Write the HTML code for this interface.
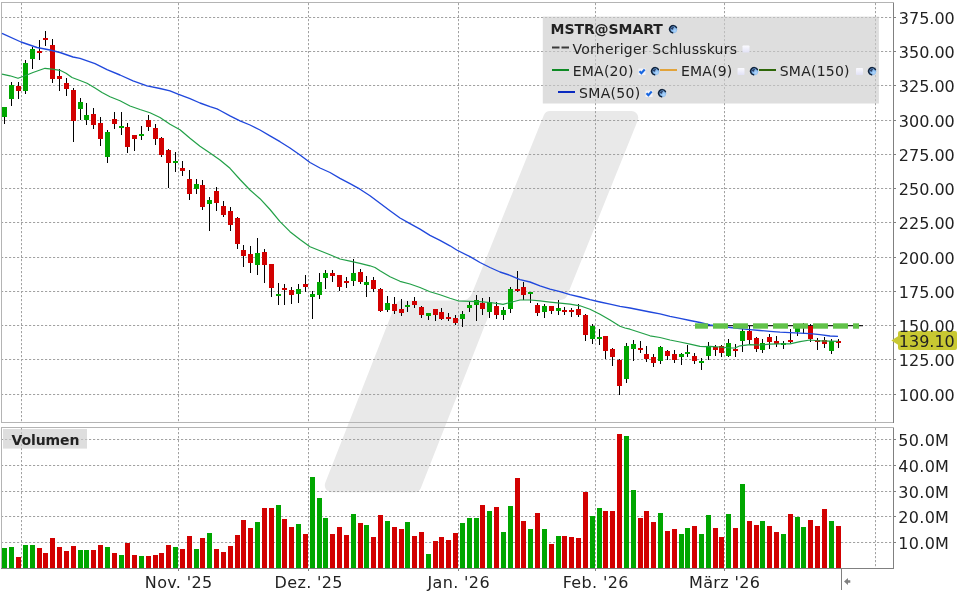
<!DOCTYPE html>
<html lang="de"><head><meta charset="utf-8"><title>MSTR@SMART Chart</title>
<style>html,body{margin:0;padding:0;background:#fff;overflow:hidden}svg{display:block;will-change:transform;-webkit-font-smoothing:antialiased}text{font-family:'DejaVu Sans','Liberation Sans',sans-serif;fill:#222}</style></head><body>
<svg width="960" height="600" viewBox="0 0 960 600">
<defs>
<radialGradient id="gl" cx="0.7" cy="0.7" r="0.8"><stop offset="0" stop-color="#b4d8fc"/><stop offset="0.5" stop-color="#7fb4ea"/><stop offset="1" stop-color="#3a69a6"/></radialGradient>
<g id="globe"><circle cx="4.2" cy="4.2" r="4" fill="url(#gl)"/><path d="M7.46 2.68 A3.6 3.6 0 1 0 3.57 7.75" fill="none" stroke="#0d1c33" stroke-width="1.45" stroke-linecap="round" opacity="0.95"/><path d="M1.8 3.6 Q3 1.3 5.3 2.2 Q3.9 2.8 4.2 4.6 Q2.4 4.9 1.8 3.6Z" fill="#1a2c52" opacity="0.85"/></g>
<linearGradient id="cbg" x1="0" y1="0" x2="0" y2="1"><stop offset="0" stop-color="#fbfbff"/><stop offset="1" stop-color="#e2e2f6"/></linearGradient>
<g id="cbox"><rect x="0" y="0" width="7" height="7" rx="0.8" fill="url(#cbg)"/></g>
<g id="cboxc"><rect x="0" y="0.5" width="7" height="6.5" fill="#f2f3fa"/><path d="M1 3.2 L2.9 5.2 L6.2 1.5" fill="none" stroke="#1766e0" stroke-width="2.1"/></g>
</defs>
<rect width="960" height="600" fill="#fff"/>
<path d="M543.73 115.38 A7.0 7.0 0 0 1 550.23 111.00 L631.23 111.00 A7.0 7.0 0 0 1 637.72 120.62 L567.20 295.62 A7.0 7.0 0 0 1 560.71 300.00 L502.97 300.00 A12.0 12.0 0 0 0 491.81 307.61 L420.97 487.86 A7.0 7.0 0 0 1 414.45 492.30 L331.79 492.30 A7.0 7.0 0 0 1 325.28 482.74 L395.16 304.94 A7.0 7.0 0 0 1 401.67 300.50 L461.03 300.50 A12.0 12.0 0 0 0 472.16 292.99Z" fill="#e9e9e9"/>
<g stroke="#a2a2a2" stroke-width="1" stroke-dasharray="2.2 1.8" fill="none">
<line x1="1" x2="893" y1="17.5" y2="17.5"/>
<line x1="1" x2="893" y1="51.5" y2="51.5"/>
<line x1="1" x2="893" y1="85.5" y2="85.5"/>
<line x1="1" x2="893" y1="120.5" y2="120.5"/>
<line x1="1" x2="893" y1="154.5" y2="154.5"/>
<line x1="1" x2="893" y1="188.5" y2="188.5"/>
<line x1="1" x2="893" y1="222.5" y2="222.5"/>
<line x1="1" x2="893" y1="257.5" y2="257.5"/>
<line x1="1" x2="893" y1="291.5" y2="291.5"/>
<line x1="1" x2="893" y1="325.5" y2="325.5"/>
<line x1="1" x2="893" y1="359.5" y2="359.5"/>
<line x1="1" x2="893" y1="394.5" y2="394.5"/>
<line x1="1" x2="893" y1="439.5" y2="439.5"/>
<line x1="1" x2="893" y1="465.5" y2="465.5"/>
<line x1="1" x2="893" y1="491.5" y2="491.5"/>
<line x1="1" x2="893" y1="516.5" y2="516.5"/>
<line x1="1" x2="893" y1="542.5" y2="542.5"/>
<line x1="21.5" x2="21.5" y1="3" y2="422"/>
<line x1="21.5" x2="21.5" y1="428" y2="568"/>
<line x1="178.5" x2="178.5" y1="3" y2="422"/>
<line x1="178.5" x2="178.5" y1="428" y2="568"/>
<line x1="308.5" x2="308.5" y1="3" y2="422"/>
<line x1="308.5" x2="308.5" y1="428" y2="568"/>
<line x1="458.5" x2="458.5" y1="3" y2="422"/>
<line x1="458.5" x2="458.5" y1="428" y2="568"/>
<line x1="595.5" x2="595.5" y1="3" y2="422"/>
<line x1="595.5" x2="595.5" y1="428" y2="568"/>
<line x1="724.5" x2="724.5" y1="3" y2="422"/>
<line x1="724.5" x2="724.5" y1="428" y2="568"/>
<line x1="875.5" x2="875.5" y1="3" y2="422"/>
<line x1="875.5" x2="875.5" y1="428" y2="568"/>
</g>
<rect x="542.8" y="16.6" width="336.1" height="86.9" fill="rgb(203,203,203)" fill-opacity="0.64"/>
<rect x="3" y="429" width="84" height="19.6" fill="rgb(203,203,203)" fill-opacity="0.64"/>
<g shape-rendering="crispEdges" fill="none" stroke-width="1">
<path d="M1.5 422.5 V2.5 H893.5" stroke="#b4b4b4"/>
<path d="M1.5 422.5 H893.5" stroke="#b4b4b4"/>
<path d="M1.5 568.5 V427.5 H893.5" stroke="#b4b4b4"/>
<path d="M893.5 2.5 V423" stroke="#808080"/>
<path d="M893.5 427.5 V568.5 H1" stroke="#808080"/>
<line x1="893" x2="896" y1="17.5" y2="17.5" stroke="#808080"/>
<line x1="893" x2="896" y1="51.5" y2="51.5" stroke="#808080"/>
<line x1="893" x2="896" y1="85.5" y2="85.5" stroke="#808080"/>
<line x1="893" x2="896" y1="120.5" y2="120.5" stroke="#808080"/>
<line x1="893" x2="896" y1="154.5" y2="154.5" stroke="#808080"/>
<line x1="893" x2="896" y1="188.5" y2="188.5" stroke="#808080"/>
<line x1="893" x2="896" y1="222.5" y2="222.5" stroke="#808080"/>
<line x1="893" x2="896" y1="257.5" y2="257.5" stroke="#808080"/>
<line x1="893" x2="896" y1="291.5" y2="291.5" stroke="#808080"/>
<line x1="893" x2="896" y1="325.5" y2="325.5" stroke="#808080"/>
<line x1="893" x2="896" y1="359.5" y2="359.5" stroke="#808080"/>
<line x1="893" x2="896" y1="394.5" y2="394.5" stroke="#808080"/>
<line x1="893" x2="896" y1="439.5" y2="439.5" stroke="#808080"/>
<line x1="893" x2="896" y1="465.5" y2="465.5" stroke="#808080"/>
<line x1="893" x2="896" y1="491.5" y2="491.5" stroke="#808080"/>
<line x1="893" x2="896" y1="516.5" y2="516.5" stroke="#808080"/>
<line x1="893" x2="896" y1="542.5" y2="542.5" stroke="#808080"/>
<line x1="178.5" x2="178.5" y1="568" y2="571" stroke="#808080"/>
<line x1="308.5" x2="308.5" y1="568" y2="571" stroke="#808080"/>
<line x1="458.5" x2="458.5" y1="568" y2="571" stroke="#808080"/>
<line x1="595.5" x2="595.5" y1="568" y2="571" stroke="#808080"/>
<line x1="724.5" x2="724.5" y1="568" y2="571" stroke="#808080"/>
<line x1="841.5" x2="841.5" y1="568" y2="590" stroke="#808080"/>
</g>
<path d="M844 581.5 L848 578 V580.3 H850.3 V582.7 H848 V585 Z" fill="#808080"/>
<g shape-rendering="crispEdges">
<rect x="2" y="548" width="5" height="20" fill="#00a600"/>
<rect x="9" y="547" width="5" height="21" fill="#00a600"/>
<rect x="16" y="557" width="5" height="11" fill="#d20000"/>
<rect x="23" y="545" width="5" height="23" fill="#00a600"/>
<rect x="30" y="545" width="5" height="23" fill="#00a600"/>
<rect x="37" y="548" width="5" height="20" fill="#d20000"/>
<rect x="43" y="553" width="5" height="15" fill="#d20000"/>
<rect x="50" y="538" width="5" height="30" fill="#d20000"/>
<rect x="57" y="547" width="5" height="21" fill="#d20000"/>
<rect x="64" y="551" width="5" height="17" fill="#d20000"/>
<rect x="71" y="546" width="5" height="22" fill="#d20000"/>
<rect x="78" y="550" width="5" height="18" fill="#00a600"/>
<rect x="84" y="550" width="5" height="18" fill="#00a600"/>
<rect x="91" y="550" width="5" height="18" fill="#d20000"/>
<rect x="98" y="545" width="5" height="23" fill="#d20000"/>
<rect x="105" y="547" width="5" height="21" fill="#00a600"/>
<rect x="112" y="553" width="5" height="15" fill="#d20000"/>
<rect x="119" y="555" width="5" height="13" fill="#00a600"/>
<rect x="125" y="543" width="5" height="25" fill="#d20000"/>
<rect x="132" y="555" width="5" height="13" fill="#d20000"/>
<rect x="139" y="556" width="5" height="12" fill="#00a600"/>
<rect x="146" y="556" width="5" height="12" fill="#d20000"/>
<rect x="153" y="555" width="5" height="13" fill="#d20000"/>
<rect x="159" y="553" width="5" height="15" fill="#d20000"/>
<rect x="166" y="545" width="5" height="23" fill="#d20000"/>
<rect x="173" y="547" width="5" height="21" fill="#00a600"/>
<rect x="180" y="549" width="5" height="19" fill="#d20000"/>
<rect x="187" y="536" width="5" height="32" fill="#d20000"/>
<rect x="194" y="549" width="5" height="19" fill="#00a600"/>
<rect x="200" y="538" width="5" height="30" fill="#d20000"/>
<rect x="207" y="533" width="5" height="35" fill="#00a600"/>
<rect x="214" y="549" width="5" height="19" fill="#d20000"/>
<rect x="221" y="552" width="5" height="16" fill="#d20000"/>
<rect x="228" y="546" width="5" height="22" fill="#d20000"/>
<rect x="235" y="535" width="5" height="33" fill="#d20000"/>
<rect x="241" y="520" width="5" height="48" fill="#d20000"/>
<rect x="248" y="528" width="5" height="40" fill="#d20000"/>
<rect x="255" y="522" width="5" height="46" fill="#00a600"/>
<rect x="262" y="508" width="5" height="60" fill="#d20000"/>
<rect x="269" y="508" width="5" height="60" fill="#d20000"/>
<rect x="276" y="505" width="5" height="63" fill="#00a600"/>
<rect x="282" y="519" width="5" height="49" fill="#d20000"/>
<rect x="289" y="527" width="5" height="41" fill="#d20000"/>
<rect x="296" y="524" width="5" height="44" fill="#00a600"/>
<rect x="303" y="534" width="5" height="34" fill="#d20000"/>
<rect x="310" y="477" width="5" height="91" fill="#00a600"/>
<rect x="317" y="498" width="5" height="70" fill="#00a600"/>
<rect x="323" y="518" width="5" height="50" fill="#00a600"/>
<rect x="330" y="534" width="5" height="34" fill="#d20000"/>
<rect x="337" y="527" width="5" height="41" fill="#d20000"/>
<rect x="344" y="535" width="5" height="33" fill="#d20000"/>
<rect x="351" y="514" width="5" height="54" fill="#00a600"/>
<rect x="358" y="523" width="5" height="45" fill="#d20000"/>
<rect x="364" y="525" width="5" height="43" fill="#00a600"/>
<rect x="371" y="537" width="5" height="31" fill="#d20000"/>
<rect x="378" y="515" width="5" height="53" fill="#d20000"/>
<rect x="385" y="521" width="5" height="47" fill="#00a600"/>
<rect x="392" y="527" width="5" height="41" fill="#d20000"/>
<rect x="399" y="529" width="5" height="39" fill="#d20000"/>
<rect x="405" y="522" width="5" height="46" fill="#00a600"/>
<rect x="412" y="536" width="5" height="32" fill="#d20000"/>
<rect x="419" y="532" width="5" height="36" fill="#d20000"/>
<rect x="426" y="554" width="5" height="14" fill="#00a600"/>
<rect x="433" y="541" width="5" height="27" fill="#d20000"/>
<rect x="439" y="537" width="5" height="31" fill="#d20000"/>
<rect x="446" y="540" width="5" height="28" fill="#d20000"/>
<rect x="453" y="533" width="5" height="35" fill="#d20000"/>
<rect x="460" y="523" width="5" height="45" fill="#00a600"/>
<rect x="467" y="518" width="5" height="50" fill="#00a600"/>
<rect x="474" y="518" width="5" height="50" fill="#00a600"/>
<rect x="480" y="505" width="5" height="63" fill="#d20000"/>
<rect x="487" y="511" width="5" height="57" fill="#00a600"/>
<rect x="494" y="507" width="5" height="61" fill="#d20000"/>
<rect x="501" y="532" width="5" height="36" fill="#00a600"/>
<rect x="508" y="506" width="5" height="62" fill="#00a600"/>
<rect x="515" y="478" width="5" height="90" fill="#d20000"/>
<rect x="521" y="521" width="5" height="47" fill="#d20000"/>
<rect x="528" y="529" width="5" height="39" fill="#00a600"/>
<rect x="535" y="513" width="5" height="55" fill="#d20000"/>
<rect x="542" y="529" width="5" height="39" fill="#00a600"/>
<rect x="549" y="544" width="5" height="24" fill="#d20000"/>
<rect x="556" y="536" width="5" height="32" fill="#00a600"/>
<rect x="562" y="536" width="5" height="32" fill="#d20000"/>
<rect x="569" y="537" width="5" height="31" fill="#d20000"/>
<rect x="576" y="538" width="5" height="30" fill="#d20000"/>
<rect x="583" y="492" width="5" height="76" fill="#d20000"/>
<rect x="590" y="516" width="5" height="52" fill="#00a600"/>
<rect x="597" y="508" width="5" height="60" fill="#00a600"/>
<rect x="603" y="511" width="5" height="57" fill="#d20000"/>
<rect x="610" y="511" width="5" height="57" fill="#d20000"/>
<rect x="617" y="434" width="5" height="134" fill="#d20000"/>
<rect x="624" y="436" width="5" height="132" fill="#00a600"/>
<rect x="631" y="490" width="5" height="78" fill="#00a600"/>
<rect x="638" y="518" width="5" height="50" fill="#d20000"/>
<rect x="644" y="511" width="5" height="57" fill="#d20000"/>
<rect x="651" y="522" width="5" height="46" fill="#d20000"/>
<rect x="658" y="513" width="5" height="55" fill="#00a600"/>
<rect x="665" y="531" width="5" height="37" fill="#d20000"/>
<rect x="672" y="529" width="5" height="39" fill="#d20000"/>
<rect x="679" y="534" width="5" height="34" fill="#00a600"/>
<rect x="685" y="528" width="5" height="40" fill="#00a600"/>
<rect x="692" y="526" width="5" height="42" fill="#d20000"/>
<rect x="699" y="534" width="5" height="34" fill="#00a600"/>
<rect x="706" y="515" width="5" height="53" fill="#00a600"/>
<rect x="713" y="528" width="5" height="40" fill="#d20000"/>
<rect x="719" y="537" width="5" height="31" fill="#d20000"/>
<rect x="726" y="514" width="5" height="54" fill="#00a600"/>
<rect x="733" y="528" width="5" height="40" fill="#d20000"/>
<rect x="740" y="484" width="5" height="84" fill="#00a600"/>
<rect x="747" y="521" width="5" height="47" fill="#d20000"/>
<rect x="754" y="525" width="5" height="43" fill="#d20000"/>
<rect x="760" y="521" width="5" height="47" fill="#00a600"/>
<rect x="767" y="526" width="5" height="42" fill="#d20000"/>
<rect x="774" y="532" width="5" height="36" fill="#d20000"/>
<rect x="781" y="534" width="5" height="34" fill="#00a600"/>
<rect x="788" y="514" width="5" height="54" fill="#d20000"/>
<rect x="795" y="517" width="5" height="51" fill="#00a600"/>
<rect x="801" y="527" width="5" height="41" fill="#00a600"/>
<rect x="808" y="520" width="5" height="48" fill="#d20000"/>
<rect x="815" y="526" width="5" height="42" fill="#d20000"/>
<rect x="822" y="509" width="5" height="59" fill="#d20000"/>
<rect x="829" y="521" width="5" height="47" fill="#00a600"/>
<rect x="836" y="526" width="5" height="42" fill="#d20000"/>
</g>
<line x1="695" x2="863" y1="325.6" y2="325.6" stroke="#1e1e1e" stroke-width="1.2"/>
<g shape-rendering="crispEdges">
<rect x="4" y="107" width="1" height="17" fill="#000"/>
<rect x="2" y="107" width="5" height="10" fill="#00a600"/>
<rect x="11" y="82" width="1" height="24" fill="#000"/>
<rect x="9" y="85" width="5" height="14" fill="#00a600"/>
<rect x="18" y="82" width="1" height="17" fill="#000"/>
<rect x="16" y="86" width="5" height="5" fill="#d20000"/>
<rect x="25" y="60" width="1" height="34" fill="#000"/>
<rect x="23" y="63" width="5" height="28" fill="#00a600"/>
<rect x="32" y="47" width="1" height="22" fill="#000"/>
<rect x="30" y="49" width="5" height="10" fill="#00a600"/>
<rect x="39" y="40" width="1" height="20" fill="#000"/>
<rect x="37" y="51" width="5" height="2" fill="#d20000"/>
<rect x="45" y="31" width="1" height="15" fill="#000"/>
<rect x="43" y="38" width="5" height="2" fill="#d20000"/>
<rect x="52" y="39" width="1" height="44" fill="#000"/>
<rect x="50" y="45" width="5" height="34" fill="#d20000"/>
<rect x="59" y="69" width="1" height="22" fill="#000"/>
<rect x="57" y="76" width="5" height="3" fill="#d20000"/>
<rect x="66" y="78" width="1" height="18" fill="#000"/>
<rect x="64" y="83" width="5" height="6" fill="#d20000"/>
<rect x="73" y="88" width="1" height="54" fill="#000"/>
<rect x="71" y="90" width="5" height="31" fill="#d20000"/>
<rect x="80" y="98" width="1" height="22" fill="#000"/>
<rect x="78" y="102" width="5" height="7" fill="#00a600"/>
<rect x="86" y="103" width="1" height="22" fill="#000"/>
<rect x="84" y="115" width="5" height="5" fill="#00a600"/>
<rect x="93" y="108" width="1" height="21" fill="#000"/>
<rect x="91" y="114" width="5" height="11" fill="#d20000"/>
<rect x="100" y="117" width="1" height="29" fill="#000"/>
<rect x="98" y="123" width="5" height="16" fill="#d20000"/>
<rect x="107" y="130" width="1" height="33" fill="#000"/>
<rect x="105" y="132" width="5" height="25" fill="#00a600"/>
<rect x="114" y="112" width="1" height="17" fill="#000"/>
<rect x="112" y="119" width="5" height="5" fill="#d20000"/>
<rect x="121" y="112" width="1" height="23" fill="#000"/>
<rect x="119" y="126" width="5" height="2" fill="#00a600"/>
<rect x="127" y="123" width="1" height="30" fill="#000"/>
<rect x="125" y="127" width="5" height="20" fill="#d20000"/>
<rect x="134" y="135" width="1" height="16" fill="#000"/>
<rect x="132" y="135" width="5" height="4" fill="#d20000"/>
<rect x="141" y="126" width="1" height="14" fill="#000"/>
<rect x="139" y="134" width="5" height="2" fill="#00a600"/>
<rect x="148" y="115" width="1" height="16" fill="#000"/>
<rect x="146" y="120" width="5" height="7" fill="#d20000"/>
<rect x="155" y="124" width="1" height="21" fill="#000"/>
<rect x="153" y="128" width="5" height="11" fill="#d20000"/>
<rect x="161" y="137" width="1" height="20" fill="#000"/>
<rect x="159" y="138" width="5" height="17" fill="#d20000"/>
<rect x="168" y="149" width="1" height="39" fill="#000"/>
<rect x="166" y="150" width="5" height="13" fill="#d20000"/>
<rect x="175" y="152" width="1" height="20" fill="#000"/>
<rect x="173" y="161" width="5" height="2" fill="#00a600"/>
<rect x="182" y="161" width="1" height="15" fill="#000"/>
<rect x="180" y="168" width="5" height="3" fill="#d20000"/>
<rect x="189" y="170" width="1" height="30" fill="#000"/>
<rect x="187" y="179" width="5" height="15" fill="#d20000"/>
<rect x="196" y="179" width="1" height="15" fill="#000"/>
<rect x="194" y="184" width="5" height="5" fill="#00a600"/>
<rect x="202" y="180" width="1" height="30" fill="#000"/>
<rect x="200" y="185" width="5" height="22" fill="#d20000"/>
<rect x="209" y="197" width="1" height="34" fill="#000"/>
<rect x="207" y="200" width="5" height="4" fill="#00a600"/>
<rect x="216" y="187" width="1" height="24" fill="#000"/>
<rect x="214" y="191" width="5" height="12" fill="#d20000"/>
<rect x="223" y="201" width="1" height="16" fill="#000"/>
<rect x="221" y="206" width="5" height="9" fill="#d20000"/>
<rect x="230" y="207" width="1" height="24" fill="#000"/>
<rect x="228" y="211" width="5" height="14" fill="#d20000"/>
<rect x="237" y="217" width="1" height="32" fill="#000"/>
<rect x="235" y="218" width="5" height="26" fill="#d20000"/>
<rect x="243" y="245" width="1" height="22" fill="#000"/>
<rect x="241" y="250" width="5" height="6" fill="#d20000"/>
<rect x="250" y="246" width="1" height="27" fill="#000"/>
<rect x="248" y="254" width="5" height="9" fill="#d20000"/>
<rect x="257" y="238" width="1" height="37" fill="#000"/>
<rect x="255" y="253" width="5" height="12" fill="#00a600"/>
<rect x="264" y="249" width="1" height="34" fill="#000"/>
<rect x="262" y="252" width="5" height="13" fill="#d20000"/>
<rect x="271" y="264" width="1" height="33" fill="#000"/>
<rect x="269" y="264" width="5" height="24" fill="#d20000"/>
<rect x="278" y="283" width="1" height="22" fill="#000"/>
<rect x="276" y="294" width="5" height="2" fill="#00a600"/>
<rect x="284" y="284" width="1" height="21" fill="#000"/>
<rect x="282" y="288" width="5" height="2" fill="#d20000"/>
<rect x="291" y="287" width="1" height="17" fill="#000"/>
<rect x="289" y="290" width="5" height="5" fill="#d20000"/>
<rect x="298" y="284" width="1" height="19" fill="#000"/>
<rect x="296" y="289" width="5" height="5" fill="#00a600"/>
<rect x="305" y="275" width="1" height="17" fill="#000"/>
<rect x="303" y="284" width="5" height="3" fill="#d20000"/>
<rect x="312" y="291" width="1" height="28" fill="#000"/>
<rect x="310" y="294" width="5" height="3" fill="#00a600"/>
<rect x="319" y="273" width="1" height="26" fill="#000"/>
<rect x="317" y="282" width="5" height="13" fill="#00a600"/>
<rect x="325" y="270" width="1" height="19" fill="#000"/>
<rect x="323" y="273" width="5" height="5" fill="#00a600"/>
<rect x="332" y="270" width="1" height="12" fill="#000"/>
<rect x="330" y="273" width="5" height="3" fill="#d20000"/>
<rect x="339" y="275" width="1" height="16" fill="#000"/>
<rect x="337" y="275" width="5" height="12" fill="#d20000"/>
<rect x="346" y="277" width="1" height="11" fill="#000"/>
<rect x="344" y="281" width="5" height="2" fill="#d20000"/>
<rect x="353" y="259" width="1" height="27" fill="#000"/>
<rect x="351" y="273" width="5" height="8" fill="#00a600"/>
<rect x="360" y="269" width="1" height="15" fill="#000"/>
<rect x="358" y="272" width="5" height="10" fill="#d20000"/>
<rect x="366" y="276" width="1" height="21" fill="#000"/>
<rect x="364" y="282" width="5" height="3" fill="#00a600"/>
<rect x="373" y="277" width="1" height="15" fill="#000"/>
<rect x="371" y="280" width="5" height="9" fill="#d20000"/>
<rect x="380" y="288" width="1" height="24" fill="#000"/>
<rect x="378" y="289" width="5" height="22" fill="#d20000"/>
<rect x="387" y="296" width="1" height="16" fill="#000"/>
<rect x="385" y="303" width="5" height="7" fill="#00a600"/>
<rect x="394" y="297" width="1" height="17" fill="#000"/>
<rect x="392" y="304" width="5" height="7" fill="#d20000"/>
<rect x="401" y="299" width="1" height="17" fill="#000"/>
<rect x="399" y="309" width="5" height="4" fill="#d20000"/>
<rect x="407" y="301" width="1" height="11" fill="#000"/>
<rect x="405" y="305" width="5" height="2" fill="#00a600"/>
<rect x="414" y="297" width="1" height="11" fill="#000"/>
<rect x="412" y="301" width="5" height="4" fill="#d20000"/>
<rect x="421" y="306" width="1" height="12" fill="#000"/>
<rect x="419" y="307" width="5" height="8" fill="#d20000"/>
<rect x="428" y="313" width="1" height="7" fill="#000"/>
<rect x="426" y="313" width="5" height="3" fill="#00a600"/>
<rect x="435" y="309" width="1" height="12" fill="#000"/>
<rect x="433" y="309" width="5" height="6" fill="#d20000"/>
<rect x="441" y="308" width="1" height="12" fill="#000"/>
<rect x="439" y="312" width="5" height="7" fill="#d20000"/>
<rect x="448" y="313" width="1" height="8" fill="#000"/>
<rect x="446" y="317" width="5" height="2" fill="#d20000"/>
<rect x="455" y="315" width="1" height="10" fill="#000"/>
<rect x="453" y="318" width="5" height="5" fill="#d20000"/>
<rect x="462" y="311" width="1" height="16" fill="#000"/>
<rect x="460" y="314" width="5" height="5" fill="#00a600"/>
<rect x="469" y="302" width="1" height="10" fill="#000"/>
<rect x="467" y="305" width="5" height="3" fill="#00a600"/>
<rect x="476" y="295" width="1" height="26" fill="#000"/>
<rect x="474" y="300" width="5" height="5" fill="#00a600"/>
<rect x="482" y="298" width="1" height="17" fill="#000"/>
<rect x="480" y="303" width="5" height="6" fill="#d20000"/>
<rect x="489" y="297" width="1" height="21" fill="#000"/>
<rect x="487" y="302" width="5" height="10" fill="#00a600"/>
<rect x="496" y="302" width="1" height="17" fill="#000"/>
<rect x="494" y="306" width="5" height="9" fill="#d20000"/>
<rect x="503" y="307" width="1" height="13" fill="#000"/>
<rect x="501" y="310" width="5" height="5" fill="#00a600"/>
<rect x="510" y="287" width="1" height="26" fill="#000"/>
<rect x="508" y="289" width="5" height="20" fill="#00a600"/>
<rect x="517" y="271" width="1" height="21" fill="#000"/>
<rect x="515" y="289" width="5" height="2" fill="#d20000"/>
<rect x="523" y="282" width="1" height="18" fill="#000"/>
<rect x="521" y="287" width="5" height="8" fill="#d20000"/>
<rect x="530" y="292" width="1" height="11" fill="#000"/>
<rect x="528" y="292" width="5" height="2" fill="#00a600"/>
<rect x="537" y="303" width="1" height="13" fill="#000"/>
<rect x="535" y="305" width="5" height="8" fill="#d20000"/>
<rect x="544" y="304" width="1" height="14" fill="#000"/>
<rect x="542" y="306" width="5" height="6" fill="#00a600"/>
<rect x="551" y="306" width="1" height="8" fill="#000"/>
<rect x="549" y="306" width="5" height="5" fill="#d20000"/>
<rect x="558" y="300" width="1" height="15" fill="#000"/>
<rect x="556" y="308" width="5" height="3" fill="#00a600"/>
<rect x="564" y="307" width="1" height="8" fill="#000"/>
<rect x="562" y="310" width="5" height="2" fill="#d20000"/>
<rect x="571" y="308" width="1" height="9" fill="#000"/>
<rect x="569" y="310" width="5" height="2" fill="#d20000"/>
<rect x="578" y="304" width="1" height="13" fill="#000"/>
<rect x="576" y="309" width="5" height="6" fill="#d20000"/>
<rect x="585" y="314" width="1" height="27" fill="#000"/>
<rect x="583" y="315" width="5" height="20" fill="#d20000"/>
<rect x="592" y="324" width="1" height="20" fill="#000"/>
<rect x="590" y="326" width="5" height="13" fill="#00a600"/>
<rect x="599" y="329" width="1" height="16" fill="#000"/>
<rect x="597" y="337" width="5" height="2" fill="#00a600"/>
<rect x="605" y="336" width="1" height="23" fill="#000"/>
<rect x="603" y="336" width="5" height="15" fill="#d20000"/>
<rect x="612" y="348" width="1" height="18" fill="#000"/>
<rect x="610" y="349" width="5" height="8" fill="#d20000"/>
<rect x="619" y="359" width="1" height="36" fill="#000"/>
<rect x="617" y="360" width="5" height="26" fill="#d20000"/>
<rect x="626" y="343" width="1" height="40" fill="#000"/>
<rect x="624" y="346" width="5" height="33" fill="#00a600"/>
<rect x="633" y="340" width="1" height="21" fill="#000"/>
<rect x="631" y="344" width="5" height="5" fill="#00a600"/>
<rect x="640" y="341" width="1" height="12" fill="#000"/>
<rect x="638" y="348" width="5" height="2" fill="#d20000"/>
<rect x="646" y="346" width="1" height="16" fill="#000"/>
<rect x="644" y="354" width="5" height="5" fill="#d20000"/>
<rect x="653" y="354" width="1" height="13" fill="#000"/>
<rect x="651" y="357" width="5" height="6" fill="#d20000"/>
<rect x="660" y="346" width="1" height="18" fill="#000"/>
<rect x="658" y="347" width="5" height="14" fill="#00a600"/>
<rect x="667" y="350" width="1" height="10" fill="#000"/>
<rect x="665" y="351" width="5" height="5" fill="#d20000"/>
<rect x="674" y="350" width="1" height="13" fill="#000"/>
<rect x="672" y="354" width="5" height="6" fill="#d20000"/>
<rect x="681" y="353" width="1" height="12" fill="#000"/>
<rect x="679" y="354" width="5" height="3" fill="#00a600"/>
<rect x="687" y="345" width="1" height="12" fill="#000"/>
<rect x="685" y="352" width="5" height="2" fill="#00a600"/>
<rect x="694" y="353" width="1" height="11" fill="#000"/>
<rect x="692" y="356" width="5" height="5" fill="#d20000"/>
<rect x="701" y="358" width="1" height="12" fill="#000"/>
<rect x="699" y="361" width="5" height="2" fill="#00a600"/>
<rect x="708" y="342" width="1" height="18" fill="#000"/>
<rect x="706" y="346" width="5" height="10" fill="#00a600"/>
<rect x="715" y="345" width="1" height="11" fill="#000"/>
<rect x="713" y="347" width="5" height="3" fill="#d20000"/>
<rect x="721" y="345" width="1" height="12" fill="#000"/>
<rect x="719" y="346" width="5" height="7" fill="#d20000"/>
<rect x="728" y="339" width="1" height="18" fill="#000"/>
<rect x="726" y="343" width="5" height="13" fill="#00a600"/>
<rect x="735" y="344" width="1" height="13" fill="#000"/>
<rect x="733" y="349" width="5" height="2" fill="#d20000"/>
<rect x="742" y="329" width="1" height="23" fill="#000"/>
<rect x="740" y="331" width="5" height="10" fill="#00a600"/>
<rect x="749" y="326" width="1" height="18" fill="#000"/>
<rect x="747" y="331" width="5" height="9" fill="#d20000"/>
<rect x="756" y="337" width="1" height="15" fill="#000"/>
<rect x="754" y="338" width="5" height="11" fill="#d20000"/>
<rect x="762" y="339" width="1" height="14" fill="#000"/>
<rect x="760" y="343" width="5" height="7" fill="#00a600"/>
<rect x="769" y="334" width="1" height="15" fill="#000"/>
<rect x="767" y="337" width="5" height="5" fill="#d20000"/>
<rect x="776" y="336" width="1" height="11" fill="#000"/>
<rect x="774" y="341" width="5" height="3" fill="#d20000"/>
<rect x="783" y="341" width="1" height="8" fill="#000"/>
<rect x="781" y="343" width="5" height="2" fill="#00a600"/>
<rect x="790" y="329" width="1" height="14" fill="#000"/>
<rect x="788" y="340" width="5" height="2" fill="#d20000"/>
<rect x="797" y="324" width="1" height="12" fill="#000"/>
<rect x="795" y="325" width="5" height="7" fill="#00a600"/>
<rect x="803" y="323" width="1" height="11" fill="#000"/>
<rect x="801" y="325" width="5" height="2" fill="#00a600"/>
<rect x="810" y="324" width="1" height="18" fill="#000"/>
<rect x="808" y="326" width="5" height="13" fill="#d20000"/>
<rect x="817" y="338" width="1" height="12" fill="#000"/>
<rect x="815" y="340" width="5" height="2" fill="#d20000"/>
<rect x="824" y="337" width="1" height="11" fill="#000"/>
<rect x="822" y="340" width="5" height="4" fill="#d20000"/>
<rect x="831" y="339" width="1" height="15" fill="#000"/>
<rect x="829" y="341" width="5" height="10" fill="#00a600"/>
<rect x="838" y="339" width="1" height="9" fill="#000"/>
<rect x="836" y="341" width="5" height="2" fill="#d20000"/>
</g>
<path d="M2.0 74.2 L10.0 75.8 L18.0 78.3 L25.0 75.8 L33.0 72.5 L45.0 68.3 L52.0 69.2 L60.0 70.3 L66.0 73.3 L72.0 77.5 L80.0 80.5 L87.0 83.3 L95.0 88.0 L102.0 92.5 L110.0 96.7 L120.0 100.8 L130.0 106.0 L140.0 109.5 L150.0 112.7 L160.0 117.5 L170.0 124.2 L180.0 129.7 L190.0 138.3 L200.0 146.3 L210.0 153.0 L220.0 160.0 L230.0 168.3 L240.0 179.5 L250.0 190.0 L260.0 198.7 L270.0 209.5 L280.0 221.7 L290.0 231.7 L300.0 239.5 L310.0 246.8 L320.0 250.8 L330.0 254.8 L340.0 259.0 L350.0 261.2 L360.0 263.3 L370.0 265.8 L375.0 267.5 L380.0 270.8 L390.0 276.7 L400.0 281.3 L410.0 284.0 L420.0 287.5 L430.0 291.7 L440.0 294.7 L450.0 298.3 L458.0 300.8 L470.0 301.3 L480.0 301.7 L490.0 302.5 L500.0 303.8 L503.0 304.3 L510.0 302.5 L520.0 300.0 L530.0 300.0 L540.0 300.8 L550.0 302.1 L560.0 303.2 L570.0 304.2 L580.0 305.8 L590.0 309.2 L600.0 314.2 L610.0 320.0 L620.0 326.3 L625.0 328.0 L630.0 329.2 L640.0 332.5 L650.0 335.8 L660.0 337.5 L670.0 340.0 L680.0 342.0 L690.0 344.2 L700.0 346.4 L705.0 346.7 L710.0 346.3 L720.0 347.0 L730.0 347.8 L735.0 348.0 L740.0 345.8 L750.0 344.7 L760.0 345.0 L770.0 344.2 L780.0 343.8 L790.0 343.8 L800.0 341.7 L810.0 340.0 L815.0 340.5 L820.0 340.8 L830.0 341.2 L838.0 341.4" fill="none" stroke="#22a047" stroke-width="1.2" stroke-linejoin="round"/>
<path d="M2.0 33.3 L21.0 42.0 L37.0 47.5 L50.0 50.0 L60.0 52.5 L73.0 57.0 L80.0 58.3 L95.0 63.7 L107.0 69.7 L120.0 75.0 L133.0 80.8 L147.0 85.8 L160.0 88.5 L170.0 90.8 L178.0 94.2 L190.0 98.7 L200.0 103.0 L210.0 106.7 L217.0 108.8 L219.2 110.0 L230.0 115.8 L240.0 120.8 L250.0 125.0 L260.0 130.0 L270.0 135.8 L280.0 141.7 L290.0 148.0 L300.0 155.0 L310.0 162.5 L320.0 168.0 L330.0 172.5 L340.0 178.3 L350.0 183.7 L360.0 189.2 L370.0 195.8 L380.0 203.3 L390.0 210.8 L400.0 218.0 L410.0 223.7 L420.0 229.2 L430.0 235.3 L440.0 240.3 L450.0 245.8 L456.7 250.0 L470.0 256.7 L480.0 262.5 L490.0 267.5 L500.0 272.0 L510.0 275.3 L520.0 279.7 L530.0 282.0 L540.0 285.8 L550.0 289.2 L560.0 291.7 L570.0 294.7 L580.0 297.0 L590.0 299.7 L600.0 302.0 L610.0 304.2 L620.0 306.3 L630.0 308.0 L640.0 310.0 L650.0 312.0 L660.0 313.8 L670.0 316.3 L680.0 318.3 L690.0 320.5 L700.0 322.5 L710.0 325.0 L720.0 326.3 L730.0 327.5 L740.0 328.7 L750.0 329.7 L760.0 330.5 L770.0 331.3 L780.0 332.2 L790.0 332.7 L800.0 333.2 L810.0 333.7 L820.0 334.7 L830.0 336.0 L838.0 336.4" fill="none" stroke="#2048dc" stroke-width="1.35" stroke-linejoin="round"/>
<g fill="#62c24a">
<rect x="695" y="323.3" width="13" height="5.4"/>
<rect x="713" y="323.3" width="15" height="5.4"/>
<rect x="733" y="323.3" width="15" height="5.4"/>
<rect x="753" y="323.3" width="15" height="5.4"/>
<rect x="773" y="323.3" width="15" height="5.4"/>
<rect x="793" y="323.3" width="15" height="5.4"/>
<rect x="813" y="323.3" width="15" height="5.4"/>
<rect x="833" y="323.3" width="15" height="5.4"/>
<rect x="853" y="323.3" width="6" height="5.4"/>
</g>
<path d="M891.3 340.5 L898 336.2 V333 Q898 331 900 331 H955 Q957 331 957 333 V348 Q957 350 955 350 H900 Q898 350 898 348 V344.8 Z" fill="#c8c832"/>
<g font-size="16">
<text x="898.8" y="24.0">375.00</text>
<text x="898.8" y="58.0">350.00</text>
<text x="898.8" y="92.0">325.00</text>
<text x="898.8" y="127.0">300.00</text>
<text x="898.8" y="161.0">275.00</text>
<text x="898.8" y="195.0">250.00</text>
<text x="898.8" y="229.0">225.00</text>
<text x="898.8" y="264.0">200.00</text>
<text x="898.8" y="298.0">175.00</text>
<text x="898.8" y="332.0">150.00</text>
<text x="898.8" y="366.0">125.00</text>
<text x="898.8" y="401.0">100.00</text>
<text x="898.3" y="445.9" letter-spacing="0.3">50.0M</text>
<text x="898.3" y="471.9" letter-spacing="0.3">40.0M</text>
<text x="898.3" y="497.9" letter-spacing="0.3">30.0M</text>
<text x="898.3" y="522.9" letter-spacing="0.3">20.0M</text>
<text x="898.3" y="548.9" letter-spacing="0.3">10.0M</text>
<text x="898.8" y="346.8">139.10</text>
<text x="178.7" y="587.7" text-anchor="middle" letter-spacing="0.36">Nov. '25</text>
<text x="308.7" y="587.7" text-anchor="middle" letter-spacing="0.36">Dez. '25</text>
<text x="458.7" y="587.7" text-anchor="middle" letter-spacing="0.36">Jan. '26</text>
<text x="595.7" y="587.7" text-anchor="middle" letter-spacing="0.36">Feb. '26</text>
<text x="724.7" y="587.7" text-anchor="middle" letter-spacing="0.36">März '26</text>
</g>
<text x="11.5" y="445" font-size="14" font-weight="bold" letter-spacing="-0.1">Volumen</text>
<g font-size="14">
<text x="550.6" y="34" font-weight="bold" letter-spacing="-0.08">MSTR@SMART</text>
<use href="#globe" x="669" y="25"/>
<rect x="552" y="46.5" width="7.5" height="2" fill="#3a3a3a"/><rect x="561.5" y="46.5" width="7.5" height="2" fill="#3a3a3a"/>
<text x="572.6" y="54" letter-spacing="0.215">Vorheriger Schlusskurs</text>
<use href="#cbox" x="742.5" y="45.5"/>
<rect x="552" y="69" width="17" height="2" fill="#0e8a24"/>
<text x="572.7" y="75.5" letter-spacing="0.24">EMA(20)</text>
<use href="#cboxc" x="638.5" y="68"/>
<use href="#globe" x="651" y="67"/>
<rect x="660" y="69" width="17" height="2" fill="#e2a33a"/>
<text x="681" y="75.5" letter-spacing="0.2">EMA(9)</text>
<use href="#cbox" x="737.5" y="68"/>
<use href="#globe" x="750" y="67"/>
<rect x="759" y="69" width="17" height="2" fill="#2d6608"/>
<text x="779.7" y="75.5" letter-spacing="0.24">SMA(150)</text>
<use href="#cbox" x="856" y="68"/>
<use href="#globe" x="868" y="67"/>
<rect x="558" y="91" width="17" height="2" fill="#0a2ac0"/>
<text x="579.1" y="97.5" letter-spacing="0.3">SMA(50)</text>
<use href="#cboxc" x="645.5" y="90"/>
<use href="#globe" x="658" y="89"/>
</g>
</svg></body></html>
